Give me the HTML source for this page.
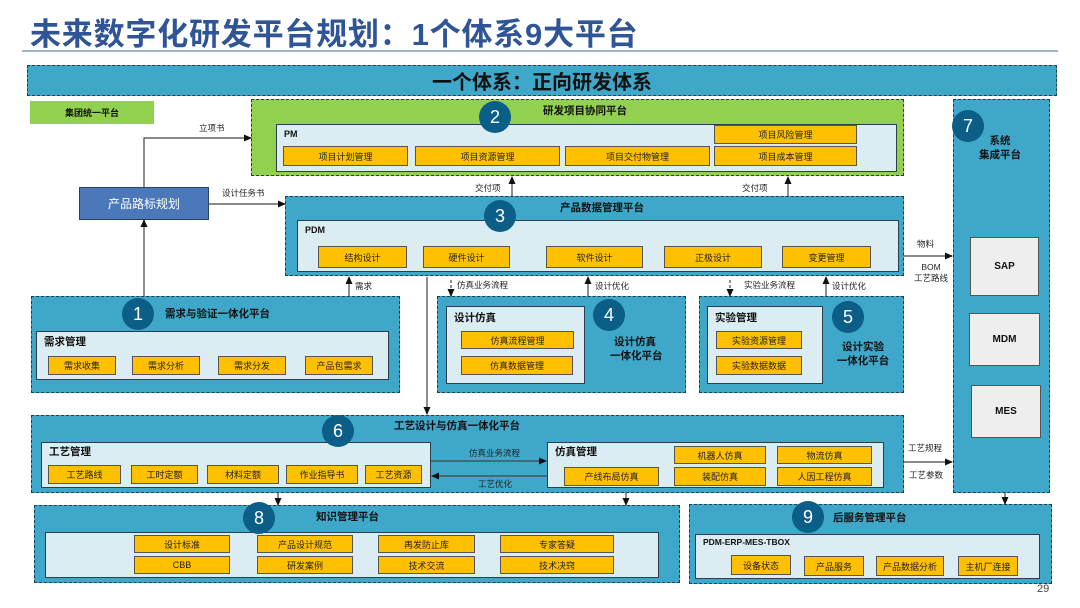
<!DOCTYPE html>
<html><head><meta charset="utf-8"><style>
*{margin:0;padding:0;box-sizing:border-box}
body{width:1080px;height:608px;background:#fff;position:relative;overflow:hidden;font-family:"Liberation Sans","Noto Sans CJK SC",sans-serif;color:#111}
div{position:absolute}
.p{background:#3fa7c9;border:1.3px dashed #1d3f52}
.in{background:#dbedf3;border:1.3px solid #2a3f4a}
.y{background:#ffc000;border:1.3px solid #555;font-size:9px;display:flex;align-items:center;justify-content:center;color:#222}
.c{width:32px;height:32px;border-radius:50%;background:#0b5e88;color:#fff;font-size:18px;display:flex;align-items:center;justify-content:center;z-index:5}
.t{font-size:10.5px;font-weight:bold;white-space:nowrap}
.l{font-size:8.5px;white-space:nowrap;color:#222}
.g{background:#eeeeee;border:1.3px solid #555;font-size:10px;font-weight:bold;display:flex;align-items:center;justify-content:center}
</style></head><body>
<div style="left:30px;top:9px;font-size:31px;font-weight:bold;color:#2f5597;white-space:nowrap;letter-spacing:0.8px">未来数字化研发平台规划：1个体系9大平台</div>
<div style="left:22px;top:50px;width:1036px;height:2px;background:#9db3cf"></div>

<div class="p" style="left:27px;top:65px;width:1030px;height:31px"></div>
<div style="left:27px;top:66px;width:1030px;text-align:center;font-size:20px;font-weight:bold">一个体系：正向研发体系</div>

<div style="left:30px;top:101px;width:124px;height:23px;background:#92d050;font-size:9px;font-weight:bold;display:flex;align-items:center;justify-content:center">集团统一平台</div>

<!-- platform 2 -->
<div class="p" style="left:251px;top:99px;width:653px;height:77px;background:#92d050"></div>
<div class="c" style="left:479px;top:101px">2</div>
<div class="t" style="left:543px;top:103px">研发项目协同平台</div>
<div class="in" style="left:276px;top:124px;width:621px;height:48px"></div>
<div class="t" style="left:284px;top:129px;font-size:9px">PM</div>
<div class="y" style="left:283px;top:146px;width:125px;height:20px">项目计划管理</div>
<div class="y" style="left:415px;top:146px;width:145px;height:20px">项目资源管理</div>
<div class="y" style="left:565px;top:146px;width:145px;height:20px">项目交付物管理</div>
<div class="y" style="left:714px;top:125px;width:143px;height:19px">项目风险管理</div>
<div class="y" style="left:714px;top:146px;width:143px;height:20px">项目成本管理</div>

<!-- roadmap -->
<div style="left:79px;top:187px;width:130px;height:33px;background:#4a78b8;border:1.3px solid #2a3f6a;color:#fff;font-size:12px;display:flex;align-items:center;justify-content:center">产品路标规划</div>

<!-- platform 3 -->
<div class="p" style="left:285px;top:196px;width:619px;height:80px"></div>
<div class="c" style="left:484px;top:200px">3</div>
<div class="t" style="left:560px;top:200px">产品数据管理平台</div>
<div class="in" style="left:297px;top:220px;width:602px;height:52px"></div>
<div class="t" style="left:305px;top:225px;font-size:9px">PDM</div>
<div class="y" style="left:318px;top:246px;width:89px;height:22px">结构设计</div>
<div class="y" style="left:423px;top:246px;width:87px;height:22px">硬件设计</div>
<div class="y" style="left:546px;top:246px;width:97px;height:22px">软件设计</div>
<div class="y" style="left:664px;top:246px;width:98px;height:22px">正极设计</div>
<div class="y" style="left:782px;top:246px;width:89px;height:22px">变更管理</div>

<!-- platform 1 -->
<div class="p" style="left:31px;top:296px;width:369px;height:97px"></div>
<div class="c" style="left:122px;top:298px">1</div>
<div class="t" style="left:165px;top:306px">需求与验证一体化平台</div>
<div class="in" style="left:36px;top:331px;width:353px;height:49px"></div>
<div class="t" style="left:44px;top:334px">需求管理</div>
<div class="y" style="left:48px;top:356px;width:68px;height:19px">需求收集</div>
<div class="y" style="left:132px;top:356px;width:68px;height:19px">需求分析</div>
<div class="y" style="left:218px;top:356px;width:68px;height:19px">需求分发</div>
<div class="y" style="left:305px;top:356px;width:68px;height:19px">产品包需求</div>

<!-- platform 4 -->
<div class="p" style="left:437px;top:296px;width:249px;height:97px"></div>
<div class="in" style="left:446px;top:306px;width:139px;height:78px"></div>
<div class="t" style="left:454px;top:310px">设计仿真</div>
<div class="y" style="left:461px;top:331px;width:113px;height:18px">仿真流程管理</div>
<div class="y" style="left:461px;top:356px;width:112px;height:19px">仿真数据管理</div>
<div class="c" style="left:593px;top:299px">4</div>
<div class="t" style="left:610px;top:335px;width:50px;text-align:center;line-height:14px">设计仿真<br>一体化平台</div>

<!-- platform 5 -->
<div class="p" style="left:699px;top:296px;width:205px;height:97px"></div>
<div class="in" style="left:707px;top:306px;width:116px;height:78px"></div>
<div class="t" style="left:715px;top:310px">实验管理</div>
<div class="y" style="left:716px;top:331px;width:86px;height:18px">实验资源管理</div>
<div class="y" style="left:716px;top:356px;width:86px;height:19px">实验数据数据</div>
<div class="c" style="left:832px;top:301px">5</div>
<div class="t" style="left:836px;top:340px;width:54px;text-align:center;line-height:14px">设计实验<br>一体化平台</div>

<!-- platform 7 -->
<div class="p" style="left:953px;top:99px;width:97px;height:394px"></div>
<div class="c" style="left:952px;top:110px">7</div>
<div class="t" style="left:975px;top:134px;width:50px;text-align:center;line-height:14px">系统<br>集成平台</div>
<div class="g" style="left:970px;top:237px;width:69px;height:59px">SAP</div>
<div class="g" style="left:969px;top:313px;width:71px;height:53px">MDM</div>
<div class="g" style="left:971px;top:385px;width:70px;height:53px">MES</div>

<!-- platform 6 -->
<div class="p" style="left:31px;top:415px;width:873px;height:78px"></div>
<div class="c" style="left:322px;top:415px">6</div>
<div class="t" style="left:394px;top:418px">工艺设计与仿真一体化平台</div>
<div class="in" style="left:41px;top:442px;width:390px;height:46px"></div>
<div class="t" style="left:49px;top:444px">工艺管理</div>
<div class="y" style="left:48px;top:465px;width:73px;height:19px">工艺路线</div>
<div class="y" style="left:131px;top:465px;width:67px;height:19px">工时定额</div>
<div class="y" style="left:207px;top:465px;width:72px;height:19px">材料定额</div>
<div class="y" style="left:286px;top:465px;width:72px;height:19px">作业指导书</div>
<div class="y" style="left:365px;top:465px;width:57px;height:19px">工艺资源</div>
<div class="in" style="left:547px;top:442px;width:337px;height:46px"></div>
<div class="t" style="left:555px;top:444px">仿真管理</div>
<div class="y" style="left:674px;top:446px;width:92px;height:18px">机器人仿真</div>
<div class="y" style="left:777px;top:446px;width:95px;height:18px">物流仿真</div>
<div class="y" style="left:564px;top:467px;width:95px;height:19px">产线布局仿真</div>
<div class="y" style="left:674px;top:467px;width:92px;height:19px">装配仿真</div>
<div class="y" style="left:777px;top:467px;width:95px;height:19px">人因工程仿真</div>

<!-- platform 8 -->
<div class="p" style="left:34px;top:505px;width:646px;height:78px"></div>
<div class="c" style="left:243px;top:502px">8</div>
<div class="t" style="left:316px;top:509px">知识管理平台</div>
<div class="in" style="left:45px;top:532px;width:614px;height:46px"></div>
<div class="y" style="left:134px;top:535px;width:96px;height:18px">设计标准</div>
<div class="y" style="left:257px;top:535px;width:96px;height:18px">产品设计规范</div>
<div class="y" style="left:378px;top:535px;width:97px;height:18px">再发防止库</div>
<div class="y" style="left:500px;top:535px;width:114px;height:18px">专家答疑</div>
<div class="y" style="left:134px;top:556px;width:96px;height:18px">CBB</div>
<div class="y" style="left:257px;top:556px;width:96px;height:18px">研发案例</div>
<div class="y" style="left:378px;top:556px;width:97px;height:18px">技术交流</div>
<div class="y" style="left:500px;top:556px;width:114px;height:18px">技术决窍</div>

<!-- platform 9 -->
<div class="p" style="left:689px;top:504px;width:363px;height:80px"></div>
<div class="c" style="left:792px;top:501px">9</div>
<div class="t" style="left:833px;top:510px">后服务管理平台</div>
<div class="in" style="left:695px;top:534px;width:345px;height:45px"></div>
<div class="t" style="left:703px;top:537px;font-size:8.5px">PDM-ERP-MES-TBOX</div>
<div class="y" style="left:731px;top:555px;width:60px;height:20px">设备状态</div>
<div class="y" style="left:804px;top:556px;width:60px;height:20px">产品服务</div>
<div class="y" style="left:876px;top:556px;width:68px;height:20px">产品数据分析</div>
<div class="y" style="left:958px;top:556px;width:60px;height:20px">主机厂连接</div>

<div style="left:1037px;top:583px;font-size:11px;color:#444">29</div>

<!-- labels -->
<div class="l" style="left:199px;top:122px">立项书</div>
<div class="l" style="left:222px;top:187px">设计任务书</div>
<div class="l" style="left:475px;top:182px">交付项</div>
<div class="l" style="left:742px;top:182px">交付项</div>
<div class="l" style="left:355px;top:280px">需求</div>
<div class="l" style="left:457px;top:279px">仿真业务流程</div>
<div class="l" style="left:595px;top:280px">设计优化</div>
<div class="l" style="left:744px;top:279px">实验业务流程</div>
<div class="l" style="left:832px;top:280px">设计优化</div>
<div class="l" style="left:917px;top:238px">物料</div>
<div class="l" style="left:913px;top:262px;width:36px;text-align:center;line-height:11px">BOM<br>工艺路线</div>
<div class="l" style="left:469px;top:447px">仿真业务流程</div>
<div class="l" style="left:478px;top:478px">工艺优化</div>
<div class="l" style="left:908px;top:442px">工艺规程</div>
<div class="l" style="left:909px;top:469px">工艺参数</div>

<svg width="1080" height="608" style="position:absolute;left:0;top:0" >
<defs><marker id="a" markerWidth="8" markerHeight="8" refX="7" refY="4" orient="auto" markerUnits="userSpaceOnUse"><path d="M0,0.5 L8,4 L0,7.5z" fill="#111"/></marker></defs>
<g stroke="#444" stroke-width="1.2" fill="none" marker-end="url(#a)">
<path d="M144 187 V138 H251"/>
<path d="M209 204 H285"/>
<path d="M144 296 V220"/>
<path d="M512 196 V177"/>
<path d="M788 196 V177"/>
<path d="M349 296 V277"/>
<path d="M451 280 V296" stroke-dasharray="3,2"/>
<path d="M588 296 V277"/>
<path d="M730 280 V296" stroke-dasharray="3,2"/>
<path d="M826 296 V277"/>
<path d="M427 277 V414"/>
<path d="M904 256 H952"/>
<path d="M431 461 H546"/>
<path d="M547 476 H432"/>
<path d="M904 462 H952"/>
<path d="M278 493 V505"/>
<path d="M626 493 V505"/>
<path d="M1005 493 V504"/>
</g>
</svg>
</body></html>
